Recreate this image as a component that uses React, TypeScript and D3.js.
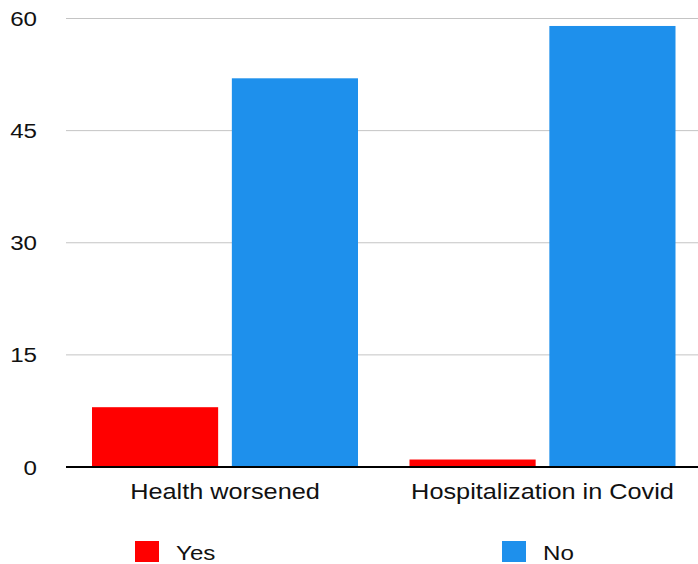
import React from "react";
import * as d3 from "d3";

// Survey outcomes, grouped by question
const categories = ["Health worsened", "Hospitalization in Covid"];
const seriesNames = ["Yes", "No"];
const yesValues = [8, 1];
const noValues = [52, 59];
const yTicks = [0, 15, 30, 45, 60];
const seriesColors = ["#ff0000", "#1e90ec"];

const W = 698;
const H = 564;
const FONT = "'Liberation Sans', Arial, Helvetica, sans-serif";
const STRETCH = 1.15;

function Label({
  x,
  y,
  size,
  anchor = "start",
  children,
}: {
  x: number;
  y: number;
  size: number;
  anchor?: "start" | "middle" | "end";
  children: React.ReactNode;
}) {
  return (
    <text
      transform={`translate(${x},${y}) scale(${STRETCH},1)`}
      textAnchor={anchor}
      fontSize={size}
      fill="#111"
    >
      {children}
    </text>
  );
}

export default function App() {
  const left = 66.25;
  const right = 701.25;
  const gridLeft = 66;
  const top = 18.5;
  const bottom = 467;

  const x = d3.scaleBand<string>().domain(categories).range([left, right]);
  const y = d3.scaleLinear().domain([0, 60]).range([bottom, top]);

  const groupPad = 25.75;
  const inner = d3
    .scaleBand<string>()
    .domain(seriesNames)
    .range([groupPad, x.bandwidth() - groupPad])
    .paddingInner(0.098);

  const series = [yesValues, noValues];

  return (
    <svg
      width={W}
      height={H}
      style={{ position: "absolute", left: 0, top: 0, background: "#fff" }}
      fontFamily={FONT}
    >
      {/* horizontal gridlines and value labels */}
      {yTicks.map((t) => (
        <g key={t}>
          {t !== 0 && (
            <line x1={gridLeft} x2={W} y1={y(t)} y2={y(t)} stroke="#c4c4c4" strokeWidth={1} />
          )}
          <Label x={37} y={y(t) + 7.5} size={21} anchor="end">
            {t}
          </Label>
        </g>
      ))}

      {/* bars */}
      {categories.map((c, ci) => (
        <g key={c} transform={`translate(${x(c)},0)`}>
          {seriesNames.map((s, si) => {
            const v = series[si][ci];
            return (
              <rect
                key={s}
                x={inner(s)}
                y={y(v)}
                width={inner.bandwidth()}
                height={y(0) - y(v)}
                fill={seriesColors[si]}
              />
            );
          })}
          <Label x={x.bandwidth() / 2} y={498.5} size={22} anchor="middle">
            {c}
          </Label>
        </g>
      ))}

      {/* baseline */}
      <line x1={gridLeft} x2={W} y1={y(0)} y2={y(0)} stroke="#000" strokeWidth={2} />

      {/* legend */}
      {seriesNames.map((s, si) => {
        const lx = si === 0 ? 135 : 502;
        return (
          <g key={s}>
            <rect x={lx} y={541} width={24} height={21} fill={seriesColors[si]} />
            <Label x={lx + 41} y={560} size={21}>
              {s}
            </Label>
          </g>
        );
      })}
    </svg>
  );
}
